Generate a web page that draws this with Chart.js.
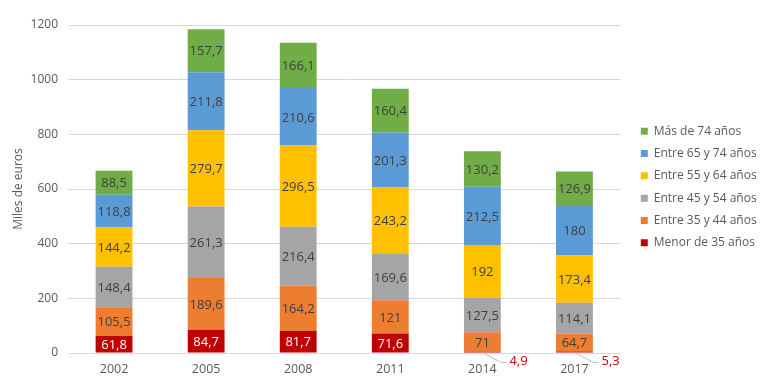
<!DOCTYPE html>
<html>
<head>
<meta charset="utf-8">
<script src="https://cdn.jsdelivr.net/npm/chart.js@4"></script>
<style>
  html, body { margin: 0; padding: 0; background: #ffffff; }
  #wrap { width: 764px; height: 379px; }
</style>
</head>
<body>
<div id="wrap"><canvas id="c" width="764" height="379"></canvas></div>
<script>
const categories = ["2002", "2005", "2008", "2011", "2014", "2017"];
const seriesNames = ["Menor de 35 años", "Entre 35 y 44 años", "Entre 45 y 54 años", "Entre 55 y 64 años", "Entre 65 y 74 años", "Más de 74 años"];
const menor35 = [61.8, 84.7, 81.7, 71.6, 4.9, 5.3];
const entre35_44 = [105.5, 189.6, 164.2, 121, 71, 64.7];
const entre45_54 = [148.4, 261.3, 216.4, 169.6, 127.5, 114.1];
const entre55_64 = [144.2, 279.7, 296.5, 243.2, 192, 173.4];
const entre65_74 = [118.8, 211.8, 210.6, 201.3, 212.5, 180];
const mas74 = [88.5, 157.7, 166.1, 160.4, 130.2, 126.9];
const yTicks = [0, 200, 400, 600, 800, 1000, 1200];

const seriesValues = [menor35, entre35_44, entre45_54, entre55_64, entre65_74, mas74];
const seriesColors = ["#C00000", "#ED7D31", "#A5A5A5", "#FFC000", "#5B9BD5", "#70AD47"];

const FONT = "'Open Sans', 'Liberation Sans', sans-serif";

const fmt = v => String(v).replace('.', ',');

const labelPlugin = {
  id: 'barLabels',
  beforeLayout(chart) {
    const lg = chart.legend;
    if (lg && !lg._wrapped) {
      const orig = lg.fit.bind(lg);
      lg.fit = function () { orig(); if (this.isHorizontal && !this.isHorizontal()) this.width = 143.5; };
      lg._wrapped = true;
    }
  },
  afterLayout(chart) {
    const lg = chart.legend;
    if (lg) {
      lg.left += 10; lg.right += 10;
      lg.top -= 15; lg.bottom -= 15;
    }
  },
  afterDatasetsDraw(chart) {
    const ctx = chart.ctx;
    ctx.save();
    ctx.font = "13px " + FONT;
    chart.data.datasets.forEach((ds, di) => {
      const meta = chart.getDatasetMeta(di);
      meta.data.forEach((el, i) => {
        const v = ds.data[i];
        const p = el.getProps(['x', 'y', 'base'], true);
        if (v < 20) {
          ctx.strokeStyle = "#BFBFBF";
          ctx.lineWidth = 1;
          ctx.beginPath();
          ctx.moveTo(p.x, p.base);
          ctx.lineTo(p.x + 19, p.base + 10);
          ctx.lineTo(p.x + 24, p.base + 10);
          ctx.stroke();
          ctx.fillStyle = "#C00000";
          ctx.textAlign = "left";
          ctx.textBaseline = "middle";
          ctx.fillText(fmt(v), p.x + 27, p.base + 9);
        } else {
          ctx.fillStyle = di === 0 ? "#FFFFFF" : "#404040";
          ctx.textAlign = "center";
          ctx.textBaseline = "middle";
          ctx.fillText(fmt(v), p.x, (p.y + p.base) / 2 + 1);
        }
      });
    });
    ctx.restore();
  }
};

const datasets = seriesNames.map((name, k) => ({
  label: name,
  data: seriesValues[k],
  backgroundColor: seriesColors[k],
  borderWidth: 0,
  categoryPercentage: 1.0,
  barPercentage: 0.4
}));

new Chart(document.getElementById('c'), {
  type: 'bar',
  data: { labels: categories, datasets },
  options: {
    responsive: false,
    animation: false,
    layout: { padding: { top: 25, right: 0, bottom: 0, left: 0 } },
    plugins: {
      tooltip: { enabled: false },
      legend: {
        position: 'right',
        reverse: true,
        labels: {
          boxWidth: 7,
          boxHeight: 7,
          padding: 10.3,
          color: '#595959',
          font: { family: FONT, size: 12 }
        }
      }
    },
    scales: {
      x: {
        stacked: true,
        grid: { display: false, drawTicks: false },
        border: { display: false },
        ticks: { color: '#595959', font: { family: FONT, size: 12.5 }, padding: 9 },
        afterFit(scale) { scale.height = 26; }
      },
      y: {
        stacked: true,
        min: 0,
        max: 1200,
        afterBuildTicks(scale) { scale.ticks = yTicks.map(v => ({ value: v })); },
        grid: { color: '#D9D9D9', drawTicks: false, lineWidth: 1 },
        border: { display: false },
        ticks: {
          color: '#595959',
          font: { family: FONT, size: 12 },
          padding: 10,
          callback: v => String(v)
        },
        title: {
          display: true,
          text: 'Miles de euros',
          color: '#595959',
          font: { family: FONT, size: 12 },
          padding: { top: 11, bottom: 0 }
        },
        afterFit(scale) { scale.width = 68; }
      }
    }
  },
  plugins: [labelPlugin]
});
</script>
</body>
</html>
